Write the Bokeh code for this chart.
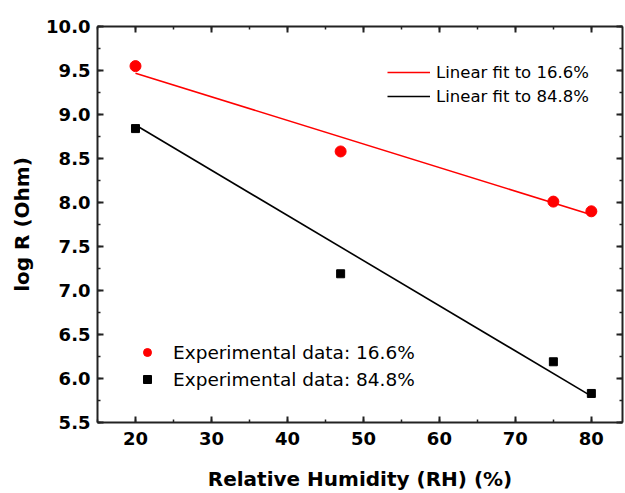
from bokeh.plotting import figure
from bokeh.models import (Range1d, LinearAxis, SingleIntervalTicker, PrintfTickFormatter,
                          CustomJSTickFormatter, Legend, LegendItem)
from bokeh.embed import file_html
from bokeh.resources import INLINE

# ---- data ----
rh = [20, 47, 75, 80]
logr_16 = [9.55, 8.58, 8.01, 7.90]
logr_85 = [8.84, 7.19, 6.19, 5.83]
fit_x = [20, 80]
fit_16 = [9.47, 7.86]
fit_85 = [8.88, 5.80]

FONT = "DejaVu Sans"
AX_COL = "#222222"

p = figure(width=625, height=493,
           x_range=Range1d(15, 84.1), y_range=Range1d(5.5, 10.0),
           output_backend="svg", toolbar_location=None,
           x_axis_location=None, y_axis_location=None,
           min_border_left=97, min_border_right=3,
           min_border_top=26, min_border_bottom=70)
p.outline_line_color = None
p.background_fill_color = "white"
p.border_fill_color = "white"
p.xgrid.grid_line_color = None
p.ygrid.grid_line_color = None


def style_axis(ax, labels=True):
    ax.axis_line_width = 2
    ax.axis_line_color = AX_COL
    ax.major_tick_in = 6
    ax.major_tick_out = 0
    ax.minor_tick_in = 3
    ax.minor_tick_out = 0
    ax.major_tick_line_width = 2
    ax.minor_tick_line_width = 1.5
    ax.major_tick_line_color = AX_COL
    ax.minor_tick_line_color = AX_COL
    if labels:
        ax.major_label_text_font = FONT
        ax.major_label_text_font_style = "bold"
        ax.major_label_text_font_size = "18px"
        ax.major_label_text_color = "black"
        ax.axis_label_text_font = FONT
        ax.axis_label_text_font_style = "bold"
        ax.axis_label_text_font_size = "20px"
        ax.axis_label_text_color = "black"
    else:
        ax.formatter = CustomJSTickFormatter(code="return ''")
        ax.major_label_standoff = 0
        ax.major_label_text_font_size = "1px"
    return ax


xticker = SingleIntervalTicker(interval=10, num_minor_ticks=2)
yticker = SingleIntervalTicker(interval=0.5, num_minor_ticks=2)

xb = LinearAxis(ticker=xticker, axis_label="Relative Humidity (RH) (%)")
style_axis(xb)
xb.major_label_standoff = 9
xb.axis_label_standoff = 19
p.add_layout(xb, "below")

yl = LinearAxis(ticker=yticker, formatter=PrintfTickFormatter(format="%.1f"),
                axis_label="log R (Ohm)")
style_axis(yl)
yl.major_label_standoff = 7
yl.axis_label_standoff = 9
p.add_layout(yl, "left")

xt = LinearAxis(ticker=SingleIntervalTicker(interval=10, num_minor_ticks=2))
style_axis(xt, labels=False)
p.add_layout(xt, "above")

yr = LinearAxis(ticker=SingleIntervalTicker(interval=0.5, num_minor_ticks=2))
style_axis(yr, labels=False)
p.add_layout(yr, "right")

# fit lines
l16 = p.line(fit_x, fit_16, line_color="#ff0000", line_width=1.6)
l85 = p.line(fit_x, fit_85, line_color="black", line_width=1.6)

# experimental points
s16 = p.scatter(rh, logr_16, marker="circle", size=11, fill_color="#ff0000", line_color="#ff0000")
s85 = p.scatter(rh, logr_85, marker="square", size=8, fill_color="black", line_color="black")

leg_top = Legend(items=[LegendItem(label="Linear fit to 16.6%", renderers=[l16]),
                        LegendItem(label="Linear fit to 84.8%", renderers=[l85])],
                 location=(290, 316))
leg_top.glyph_width = 43
leg_top.glyph_height = 20
leg_top.label_height = 20
leg_top.label_standoff = 6
leg_top.spacing = 4
leg_top.padding = 0
leg_top.margin = 0
leg_top.border_line_color = None
leg_top.background_fill_alpha = 0
leg_top.label_text_font = FONT
leg_top.label_text_font_size = "16.5px"
leg_top.label_text_color = "black"
p.add_layout(leg_top, "center")

leg_bot = Legend(items=[LegendItem(label="Experimental data: 16.6%", renderers=[s16]),
                        LegendItem(label="Experimental data: 84.8%", renderers=[s85])],
                 location=(40, 32))
leg_bot.glyph_width = 20
leg_bot.glyph_height = 22
leg_bot.label_height = 22
leg_bot.label_standoff = 16
leg_bot.spacing = 5
leg_bot.padding = 0
leg_bot.margin = 0
leg_bot.border_line_color = None
leg_bot.background_fill_alpha = 0
leg_bot.label_text_font = FONT
leg_bot.label_text_font_size = "18.5px"
leg_bot.label_text_color = "black"
p.add_layout(leg_bot, "center")

open("out.html", "w").write(file_html(p, INLINE))
